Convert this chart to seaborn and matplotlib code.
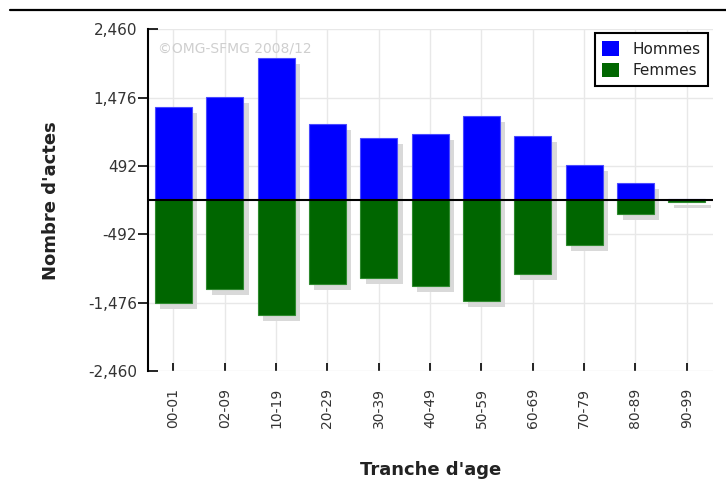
import matplotlib
matplotlib.use("Agg")
import matplotlib.pyplot as plt
import pandas as pd
import seaborn as sns
from matplotlib.lines import Line2D
from matplotlib.patches import Patch
from matplotlib.ticker import FixedLocator, FuncFormatter
from matplotlib.transforms import ScaledTranslation

# Nombre d'actes par tranche d'age
tranches = ["00-01", "02-09", "10-19", "20-29", "30-39", "40-49",
            "50-59", "60-69", "70-79", "80-89", "90-99"]
hommes = [1346, 1490, 2050, 1093, 900, 958, 1208, 929, 507, 252, 15]
femmes = [1485, 1283, 1653, 1207, 1125, 1236, 1456, 1063, 641, 194, 25]

y_major = [-1476, -492, 492, 1476]
y_limits = [-2460, 2460]

BLUE = "#0000ff"
GREEN = "#006600"
SHADOW = "#d9d9d9"

sns.set_theme(style="white")
plt.rcParams["font.family"] = ["DejaVu Sans"]

fig = plt.figure(figsize=(7.26, 4.86), dpi=100)
W, H = 726, 486
ax = fig.add_axes([148.3 / W, 1 - 371 / H, (713 - 148.3) / W, 341.7 / H])

df = pd.DataFrame({
    "tranche": tranches,
    "hommes": hommes,
    "femmes": [-v for v in femmes],
})

common = dict(data=df, x="tranche", saturation=1, width=0.72,
              errorbar=None, ax=ax)

# drop shadows, shifted right and down
n0 = len(ax.patches)
for col in ["hommes", "femmes"]:
    sns.barplot(y=col, color=SHADOW, linewidth=0, zorder=1, **common)
offset = ScaledTranslation(5.5 / 100, -6 / 100, fig.dpi_scale_trans)
for p in ax.patches[n0:]:
    p.set_transform(ax.transData + offset)

sns.barplot(y="hommes", color=BLUE, edgecolor="#4a4aff", linewidth=0.8,
            zorder=2, **common)
sns.barplot(y="femmes", color=GREEN, edgecolor="#2f8a2f", linewidth=0.8,
            zorder=2, **common)

ax.axhline(0, color="black", lw=1.5, zorder=3)

ax.set_xlim(-0.49, 10.51)
ax.set_ylim(*y_limits)

# y ticks: inner ones outward, extremes drawn inward
ax.yaxis.set_major_locator(FixedLocator(y_major))
ax.yaxis.set_minor_locator(FixedLocator(y_limits))
fmt = FuncFormatter(lambda v, _: f"{v:,.0f}")
ax.yaxis.set_major_formatter(fmt)
ax.yaxis.set_minor_formatter(fmt)
ax.tick_params(axis="y", which="major", direction="out", length=7,
               width=1.2, color="black", pad=1, labelsize=11,
               labelcolor="#333333", left=True)
ax.tick_params(axis="y", which="minor", direction="in", length=7,
               width=1.2, color="black", pad=8, labelsize=11,
               labelcolor="#333333", left=True, labelleft=True)

ax.set_xticks(range(len(tranches)))
ax.set_xticklabels(tranches, rotation=90)
ax.tick_params(axis="x", direction="in", length=6, width=1.2,
               color="black", pad=12, labelsize=10, labelcolor="#333333",
               bottom=True)

ax.grid(True, which="both", color="#e8e8e8", lw=1)
ax.set_axisbelow(True)

for side in ["top", "right", "bottom"]:
    ax.spines[side].set_visible(False)
ax.spines["left"].set_color("black")
ax.spines["left"].set_linewidth(1.5)

ax.set_ylabel("Nombre d'actes", fontsize=13, fontweight="bold",
              color="#222222")
ax.yaxis.set_label_coords(-0.156, 0.5)
ax.set_xlabel("Tranche d'age", fontsize=13, fontweight="bold",
              color="#222222")
ax.xaxis.set_label_coords(0.5, -0.262)

ax.text(0.017, 0.945, "\u00a9OMG-SFMG 2008/12", transform=ax.transAxes,
        color="#cfcfcf", fontsize=10, va="center", zorder=0.6)

handles = [Patch(facecolor=BLUE, edgecolor="none"),
           Patch(facecolor=GREEN, edgecolor="none")]
leg = ax.legend(handles, ["Hommes", "Femmes"], loc="upper right",
                bbox_to_anchor=(0.992, 0.988), fontsize=11,
                frameon=True, fancybox=False, borderpad=0.5,
                labelspacing=0.4, handlelength=1.1, handleheight=1.1,
                handletextpad=0.9, borderaxespad=0)
leg.get_frame().set_edgecolor("black")
leg.get_frame().set_linewidth(1.5)
leg.get_frame().set_alpha(1)
for t in leg.get_texts():
    t.set_color("#222222")

fig.add_artist(Line2D([10 / W, 1], [1 - 10 / H, 1 - 10 / H],
                      transform=fig.transFigure, color="black", lw=1.6))

fig.savefig("out.png", dpi=100)
